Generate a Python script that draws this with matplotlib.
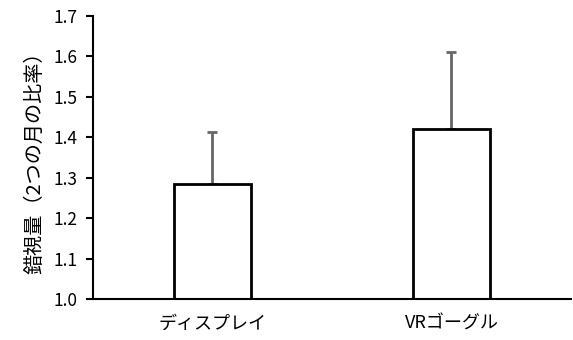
import matplotlib
matplotlib.use('Agg')
import matplotlib.pyplot as plt

plt.rcParams['font.family'] = ['Noto Sans CJK JP', 'DejaVu Sans']

# data
categories = ['ディスプレイ', 'VRゴーグル']
means = [1.285, 1.42]
upper_err = [0.129, 0.19]
y_ticks = [1.0, 1.1, 1.2, 1.3, 1.4, 1.5, 1.6, 1.7]

fig = plt.figure(figsize=(5.73, 3.4), dpi=100)
ax = fig.add_axes([0.1623, 0.1206, 0.8342, 0.8324])

x = list(range(len(categories)))
ax.bar(x, means, width=0.32, color='white', edgecolor='black', linewidth=2, zorder=2)
ax.errorbar(x, means, yerr=[[0] * len(means), upper_err], fmt='none',
            ecolor='#666666', elinewidth=2, capsize=3.5, capthick=2, zorder=1)

ax.set_xlim(-0.5, 1.5)
ax.set_ylim(1.0, 1.7)
ax.set_yticks(y_ticks)
ax.set_yticklabels([f'{v:.1f}' for v in y_ticks])
ax.set_xticks(x)
ax.set_xticklabels(categories)

for s in ['top', 'right']:
    ax.spines[s].set_visible(False)
ax.spines['left'].set_linewidth(1.5)
ax.spines['bottom'].set_linewidth(1.5)

ax.tick_params(axis='y', length=5, width=1.5, pad=6, labelsize=12.5)
ax.tick_params(axis='x', length=0, pad=11, labelsize=13)

ax.set_ylabel('錯視量（2つの月の比率）', fontsize=14.5, labelpad=6)

fig.savefig('out.png', dpi=100)
